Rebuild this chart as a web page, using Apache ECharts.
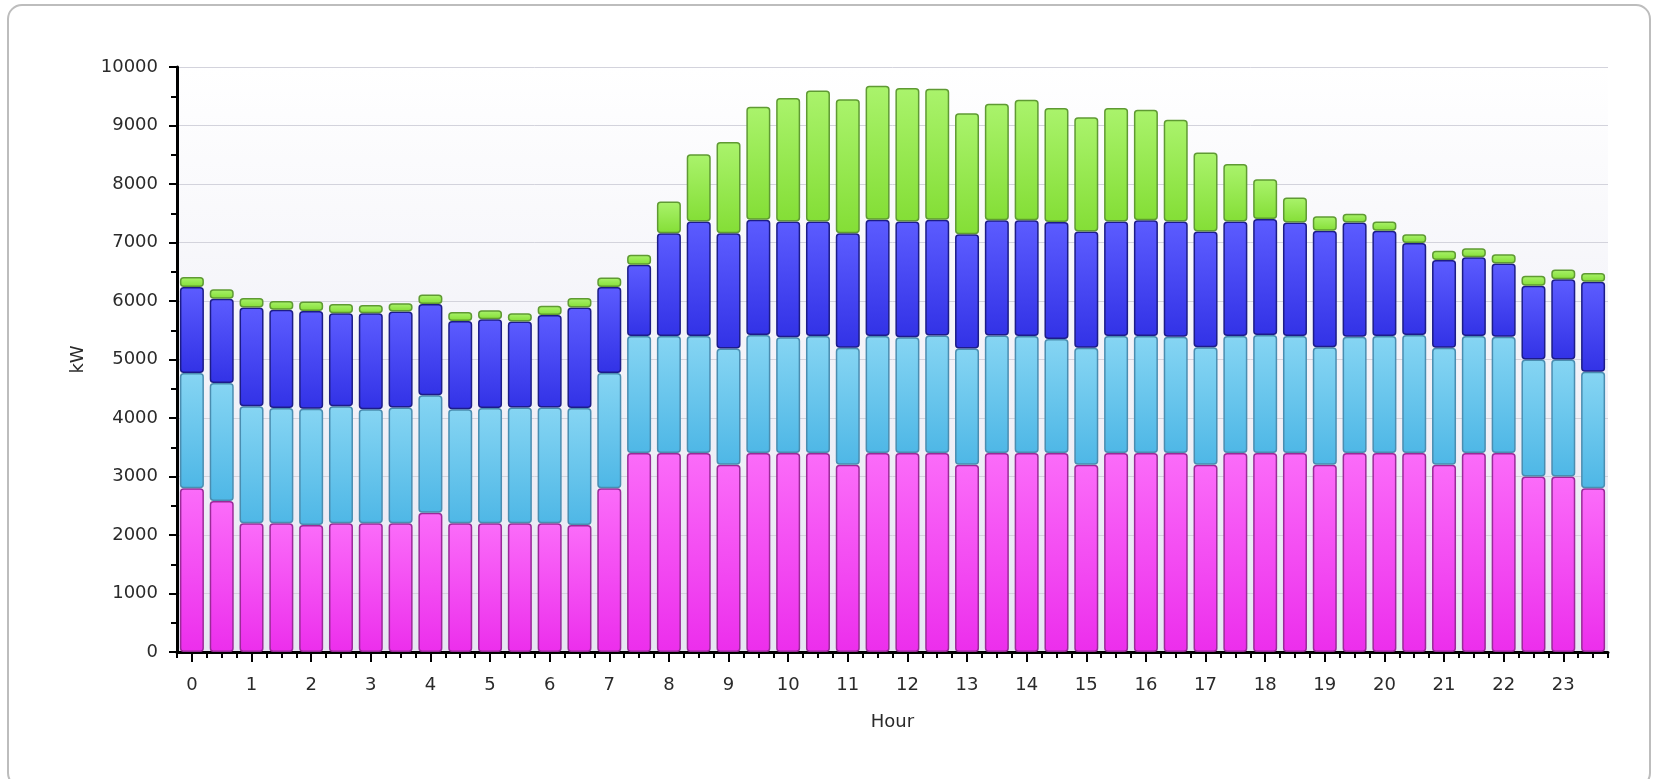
<!DOCTYPE html>
<html>
<head>
<meta charset="utf-8">
<script src="https://cdn.jsdelivr.net/npm/echarts@6/dist/echarts.min.js"></script>
<style>
  html, body { margin: 0; padding: 0; background: #fff; }
  #chart { width: 1657px; height: 779px; }
</style>
</head>
<body>
<div id="chart"></div>
<script>
// half-hour slots, label shown on the full hours
var slots = [];
for (var h = 0; h < 24; h++) {
    slots.push(h + ':00');
    slots.push(h + ':30');
}

// stacked loads in kW, bottom to top
var magenta = [2800, 2580, 2200, 2200, 2170, 2200, 2200, 2200, 2380, 2200, 2200, 2200,
    2200, 2170, 2800, 3400, 3400, 3400, 3200, 3400, 3400, 3400, 3200, 3400,
    3400, 3400, 3200, 3400, 3400, 3400, 3200, 3400, 3400, 3400, 3200, 3400,
    3400, 3400, 3200, 3400, 3400, 3400, 3200, 3400, 3400, 3000, 3000, 2800];
var lightBlue = [1970, 2020, 2000, 1970, 1990, 2000, 1950, 1980, 2010, 1950, 1970, 1980,
    1980, 2000, 1970, 2000, 2000, 2000, 1990, 2020, 1980, 2000, 2000, 2000,
    1980, 2010, 1990, 2010, 2000, 1950, 2000, 2000, 2000, 1990, 2010, 2000,
    2020, 2000, 2010, 1990, 2000, 2020, 2000, 2000, 1990, 2000, 2000, 1990];
var blue = [1470, 1440, 1690, 1680, 1670, 1590, 1640, 1640, 1560, 1510, 1520, 1470,
    1580, 1720, 1470, 1220, 1760, 1960, 1970, 1970, 1980, 1960, 1960, 1990,
    1980, 1980, 1950, 1970, 1980, 2000, 1990, 1960, 1980, 1970, 1980, 1960,
    1980, 1940, 1990, 1950, 1800, 1570, 1500, 1350, 1250, 1260, 1370, 1540];
var green = [170, 160, 160, 150, 160, 160, 140, 140, 160, 150, 150, 140,
    160, 160, 160, 170, 540, 1150, 1560, 1930, 2110, 2240, 2290, 2290,
    2280, 2240, 2070, 1990, 2060, 1950, 1950, 1940, 1890, 1740, 1350, 980,
    680, 430, 250, 150, 160, 150, 160, 150, 160, 170, 170, 150];

var FONT = 'DejaVu Sans';
var TXT = '#2a2a2a';

function grad(top, bottom) {
    return new echarts.graphic.LinearGradient(0, 0, 0, 1, [
        { offset: 0, color: top },
        { offset: 1, color: bottom }
    ]);
}

function barSeries(name, data, top, bottom, border) {
    return {
        name: name,
        type: 'bar',
        stack: 'load',
        xAxisIndex: 0,
        barWidth: 24,
        data: data,
        itemStyle: {
            color: grad(top, bottom),
            borderColor: border,
            borderWidth: 1.5,
            borderRadius: 3
        },
        emphasis: { disabled: true }
    };
}

var evenSlot = function (i) { return i % 2 === 0; };

var myChart = echarts.init(document.getElementById('chart'));
var option = {
    animation: false,
    textStyle: { fontFamily: FONT },
    graphic: [{
        type: 'rect',
        silent: true,
        shape: { x: 8, y: 5, width: 1642, height: 782, r: 14 },
        style: { fill: 'none', stroke: '#bdbdbd', lineWidth: 2 }
    }],
    grid: {
        left: 177,
        right: 49,
        top: 67,
        bottom: 127,
        show: true,
        borderWidth: 0,
        backgroundColor: grad('#ffffff', '#e6e6f2')
    },
    xAxis: [
        {
            type: 'category',
            data: slots,
            name: 'Hour',
            nameLocation: 'middle',
            nameGap: 61,
            nameTextStyle: { color: TXT, fontSize: 18, fontFamily: FONT },
            axisLine: { show: true, lineStyle: { color: '#000', width: 3 } },
            axisTick: {
                show: true, alignWithLabel: true, interval: evenSlot, length: 10,
                lineStyle: { color: '#000', width: 2 }
            },
            axisLabel: {
                interval: evenSlot, margin: 24, color: TXT, fontSize: 18, fontFamily: FONT,
                formatter: function (v) { return v.split(':')[0]; }
            },
            splitLine: { show: false }
        },
        {
            // ticks on the bar boundaries
            type: 'category',
            data: slots,
            position: 'bottom',
            axisLine: { show: false },
            axisTick: { show: true, interval: 0, length: 6, lineStyle: { color: '#000', width: 2 } },
            axisLabel: { show: false },
            splitLine: { show: false }
        },
        {
            // ticks on every bar centre
            type: 'category',
            data: slots,
            position: 'bottom',
            axisLine: { show: false },
            axisTick: {
                show: true, alignWithLabel: true, interval: 0, length: 6,
                lineStyle: { color: '#000', width: 2 }
            },
            axisLabel: { show: false },
            splitLine: { show: false }
        }
    ],
    yAxis: {
        type: 'value',
        min: 0,
        max: 10000,
        interval: 1000,
        name: 'kW',
        nameLocation: 'middle',
        nameRotate: 90,
        nameGap: 90,
        nameTextStyle: { color: TXT, fontSize: 18, fontFamily: FONT },
        axisLine: { show: true, lineStyle: { color: '#000', width: 3 } },
        axisTick: { show: true, length: 8, lineStyle: { color: '#000', width: 2 } },
        minorTick: { show: true, splitNumber: 2, length: 6, lineStyle: { color: '#000', width: 2 } },
        axisLabel: {
            margin: 19, color: TXT, fontSize: 18, fontFamily: FONT,
            formatter: function (v) { return String(v); }
        },
        splitLine: { show: true, lineStyle: { color: '#d3d3dc', width: 1 } },
        minorSplitLine: { show: false }
    },
    series: [
        barSeries('Base', magenta, '#fb6cf9', '#ec2eec', '#9a2a98'),
        barSeries('Load 2', lightBlue, '#86d5f3', '#4eb7e6', '#4a8db0'),
        barSeries('Load 3', blue, '#5c5cff', '#3232e6', '#1c1c88'),
        barSeries('Load 4', green, '#aaf36c', '#84de36', '#5f9a33')
    ]
};
myChart.setOption(option);
</script>
</body>
</html>
